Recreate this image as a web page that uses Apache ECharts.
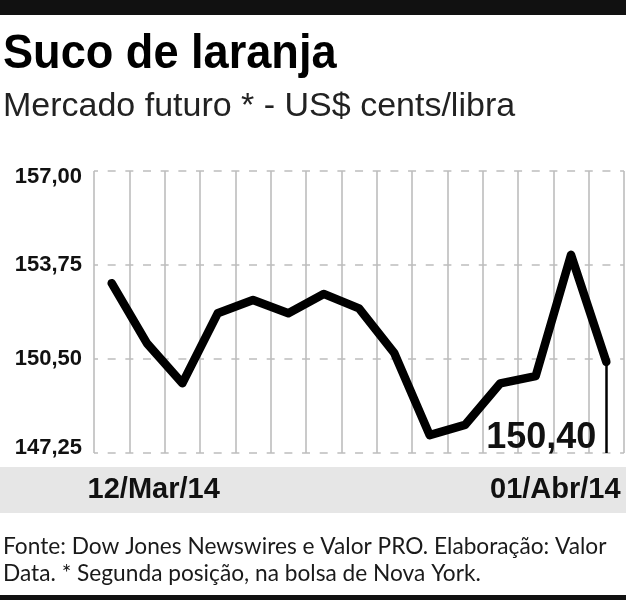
<!DOCTYPE html>
<html>
<head>
<meta charset="utf-8">
<script src="https://cdn.jsdelivr.net/npm/echarts@6/dist/echarts.min.js"></script>
<style>html,body{margin:0;padding:0;background:#fff}#c{width:626px;height:600px}</style>
</head>
<body>
<div id="c"></div>
<script>
const titleText = 'Suco de laranja';
const subtitleText = 'Mercado futuro * - US$ cents/libra';
const footerLines = ['Fonte: Dow Jones Newswires e Valor PRO. Elaboração: Valor', 'Data. * Segunda posição, na bolsa de Nova York.'];
const dates = ['12/Mar/14','13/Mar/14','14/Mar/14','17/Mar/14','18/Mar/14','19/Mar/14','20/Mar/14','21/Mar/14','24/Mar/14','25/Mar/14','26/Mar/14','27/Mar/14','28/Mar/14','31/Mar/14','01/Abr/14'];
const prices = [153.12, 151.04, 149.66, 152.08, 152.54, 152.08, 152.75, 152.25, 150.70, 147.87, 148.22, 149.66, 149.91, 154.10, 150.40];
const yMin = 147.25, yMax = 157.00, yStep = 3.25;

const fmt = v => v.toFixed(2).replace('.', ',');
const lastIdx = prices.length - 1;

const chart = echarts.init(document.getElementById('c'), null, {renderer: 'canvas'});
chart.setOption({
  animation: false,
  backgroundColor: '#fff',
  grid: {left: 94, right: 2, top: 171, bottom: 147, containLabel: false},
  xAxis: {
    type: 'category',
    data: dates,
    boundaryGap: true,
    axisLine: {show: false},
    axisTick: {show: false, interval: 0},
    splitLine: {show: true, interval: 0, lineStyle: {color: '#bdbdbd', width: 1.6, type: 'solid'}},
    axisLabel: {
      interval: (i) => i === 0 || i === lastIdx,
      margin: 22,
      color: '#111',
      fontFamily: 'Liberation Sans',
      fontWeight: 'bold',
      fontSize: 29,
      formatter: (v, i) => i === 0 ? '{a|' + v + '}' : '{b|' + v + '}',
      rich: {
        a: {fontFamily: 'Liberation Sans', fontWeight: 'bold', fontSize: 29, color: '#111', padding: [0, 0, 0, 84]},
        b: {fontFamily: 'Liberation Sans', fontWeight: 'bold', fontSize: 29, color: '#111', padding: [0, 102, 0, 0]}
      }
    }
  },
  yAxis: {
    type: 'value',
    min: yMin, max: yMax, interval: yStep,
    axisLine: {show: false},
    axisTick: {show: false},
    splitLine: {show: true, lineStyle: {color: '#bdbdbd', width: 1.6, type: [8, 9.67], dashOffset: 4}},
    axisLabel: {
      margin: 12,
      color: '#111',
      fontFamily: 'Liberation Sans',
      fontWeight: 'bold',
      fontSize: 22,
      formatter: (v) => {
        const s = fmt(v);
        if (Math.abs(v - yMax) < 1e-6) return '{t|' + s + '}';
        if (Math.abs(v - yMin) < 1e-6) return '{m|' + s + '}';
        return '{n|' + s + '}';
      },
      rich: {
        t: {fontFamily: 'Liberation Sans', fontWeight: 'bold', fontSize: 22, color: '#111', padding: [12, 0, 0, 0]},
        m: {fontFamily: 'Liberation Sans', fontWeight: 'bold', fontSize: 22, color: '#111', padding: [0, 0, 10, 0]},
        n: {fontFamily: 'Liberation Sans', fontWeight: 'bold', fontSize: 22, color: '#111'}
      }
    }
  },
  series: [{
    type: 'line',
    data: prices,
    symbol: 'none',
    z: 5,
    lineStyle: {color: '#000', width: 8.5, cap: 'round', join: 'round'},
    markLine: {
      silent: true,
      symbol: ['none', 'none'],
      label: {show: false},
      lineStyle: {color: '#000', width: 2.5, type: 'solid'},
      data: [[{coord: [lastIdx, prices[lastIdx]]}, {coord: [lastIdx, yMin]}]]
    },
    markPoint: {
      symbol: 'circle',
      symbolSize: 0,
      data: [{coord: [lastIdx, prices[lastIdx]], value: prices[lastIdx]}],
      label: {
        show: true,
        position: [-10, 76],
        align: 'right',
        verticalAlign: 'middle',
        formatter: (p) => fmt(p.value),
        fontFamily: 'Liberation Sans',
        fontWeight: 'bold',
        fontSize: 36,
        color: '#111'
      }
    }
  }],
  graphic: [
    {type: 'rect', z: -10, shape: {x: 0, y: 0, width: 626, height: 15}, style: {fill: '#111'}},
    {type: 'rect', z: -10, shape: {x: 0, y: 467, width: 626, height: 46}, style: {fill: '#e6e6e6'}},
    {type: 'rect', z: -10, shape: {x: 0, y: 595, width: 626, height: 5}, style: {fill: '#111'}},
    {type: 'text', x: 3, y: 54.5, scaleX: 0.94, style: {text: titleText, fontFamily: 'Liberation Sans', fontWeight: 'bold', fontSize: 48, fill: '#000', verticalAlign: 'middle', align: 'left'}},
    {type: 'text', x: 3, y: 106.5, style: {text: subtitleText, fontFamily: 'Liberation Sans', fontWeight: 'normal', fontSize: 34, fill: '#222', verticalAlign: 'middle', align: 'left'}},
    {type: 'text', x: 3, y: 546.5, style: {text: footerLines[0], fontFamily: 'Lato', fontSize: 22.7, fill: '#1a1a1a', verticalAlign: 'middle', align: 'left'}},
    {type: 'text', x: 3, y: 573.5, style: {text: footerLines[1], fontFamily: 'Lato', fontSize: 22.7, fill: '#1a1a1a', verticalAlign: 'middle', align: 'left'}}
  ]
});
</script>
</body>
</html>
